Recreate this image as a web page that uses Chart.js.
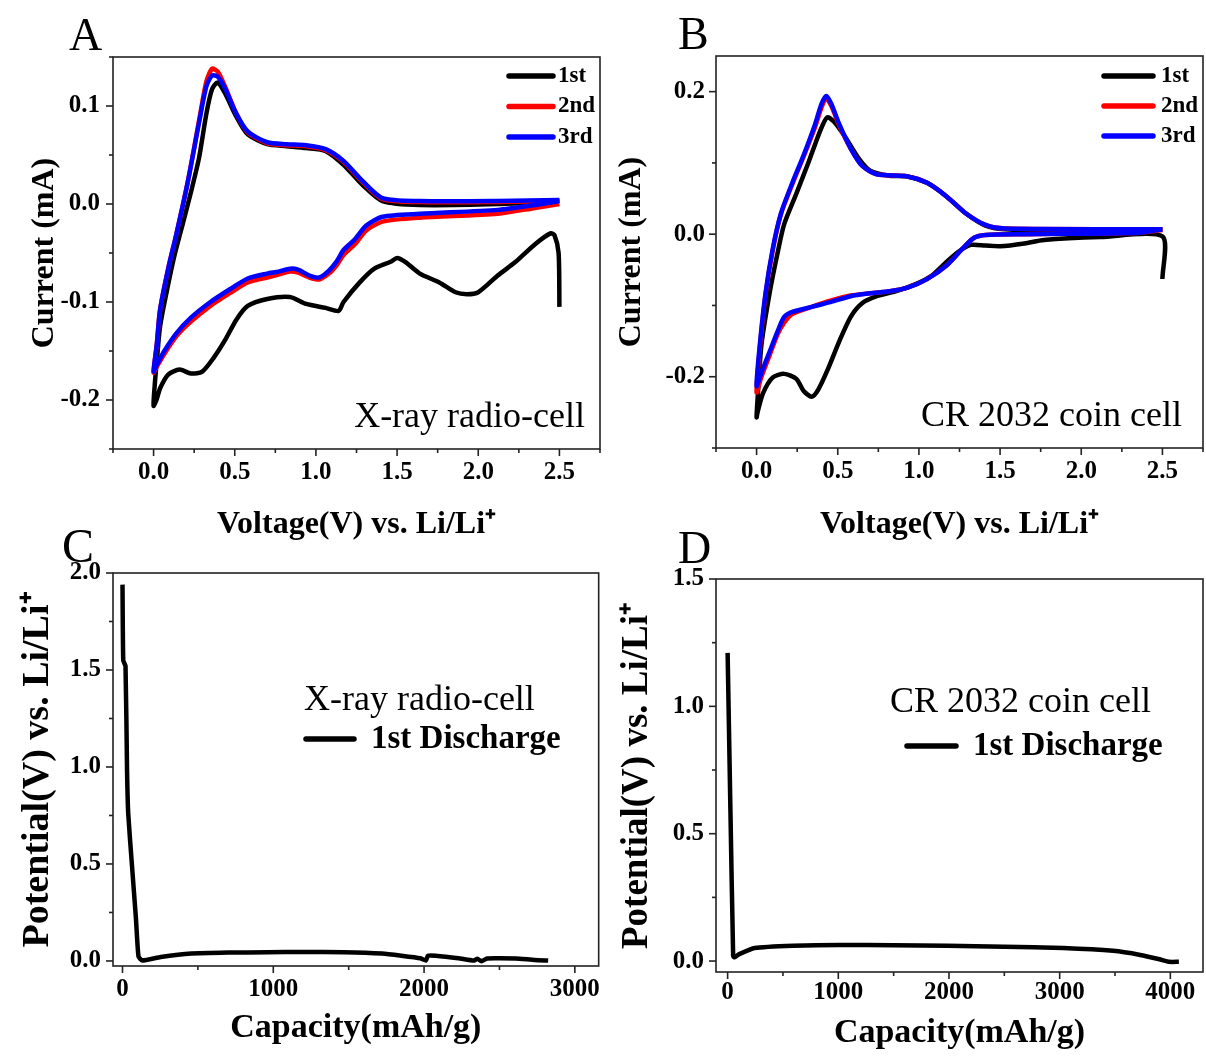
<!DOCTYPE html>
<html>
<head>
<meta charset="utf-8">
<script src="https://cdn.jsdelivr.net/npm/chart.js@4.4.0/dist/chart.umd.min.js"></script>
<style>
  body { margin: 0; background: #fff; }
  .wrap { position: relative; width: 1206px; height: 1057px; overflow: hidden; }
  canvas { position: absolute; }
  .tag { position: absolute; font: 46px "Liberation Serif", serif; line-height: 46px; color: #000; }
</style>
</head>
<body>
<div class="wrap">
  <canvas id="chartA" width="603" height="545" style="left:0;top:0"></canvas>
  <canvas id="chartB" width="603" height="545" style="left:603px;top:0"></canvas>
  <canvas id="chartC" width="603" height="512" style="left:0;top:545px"></canvas>
  <canvas id="chartD" width="603" height="512" style="left:603px;top:545px"></canvas>
  <div class="tag" style="left:69px;top:12px">A</div>
  <div class="tag" style="left:678px;top:11px">B</div>
  <div class="tag" style="left:62px;top:523px;font-size:48px">C</div>
  <div class="tag" style="left:678px;top:525px">D</div>
</div>
<script>
// panel A - CV, X-ray radio-cell (voltage V, current mA)
const aVolt1 = [2.5, 2.495, 2.47, 2.445, 2.35, 2.23, 2.12, 2.0, 1.93, 1.86, 1.76, 1.64, 1.55, 1.5, 1.46, 1.36, 1.27, 1.17, 1.14, 1.06, 0.94, 0.84, 0.7, 0.58, 0.51, 0.44, 0.37, 0.3, 0.23, 0.16, 0.09, 0.04, 0.02, 0.0,
  0.007, 0.02, 0.04, 0.08, 0.125, 0.18, 0.23, 0.28, 0.325, 0.36, 0.395, 0.44, 0.51, 0.58, 0.7, 0.82, 0.94, 1.06, 1.17, 1.29, 1.41, 1.64, 2.12, 2.5];
const aCurr1 = [-0.105, -0.05, -0.032, -0.03, -0.041, -0.059, -0.073, -0.09, -0.092, -0.09, -0.08, -0.071, -0.059, -0.055, -0.059, -0.066, -0.08, -0.1, -0.109, -0.106, -0.102, -0.095, -0.097, -0.104, -0.118, -0.139, -0.157, -0.171, -0.173, -0.169, -0.174, -0.188, -0.199, -0.206,
  -0.185, -0.16, -0.125, -0.09, -0.055, -0.02, 0.012, 0.047, 0.092, 0.117, 0.124, 0.113, 0.089, 0.071, 0.061, 0.059, 0.057, 0.054, 0.04, 0.019, 0.003, -0.001, 0.0, 0.003];
const aVolt23 = [2.5, 2.35, 2.12, 1.64, 1.41, 1.31, 1.24, 1.17, 1.13, 1.08, 1.02, 0.96, 0.89, 0.84, 0.77, 0.7, 0.58, 0.47, 0.35, 0.23, 0.14, 0.066, 0.02, 0.0,
  0.02, 0.04, 0.09, 0.14, 0.21, 0.28, 0.325, 0.36, 0.395, 0.44, 0.51, 0.58, 0.7, 0.82, 0.94, 1.06, 1.17, 1.29, 1.41, 1.64, 2.12, 2.5];
const aCurr2 = [0.0, -0.004, -0.01, -0.014, -0.018, -0.027, -0.041, -0.052, -0.062, -0.071, -0.077, -0.075, -0.07, -0.069, -0.072, -0.075, -0.08, -0.091, -0.104, -0.12, -0.135, -0.153, -0.166, -0.172,
  -0.143, -0.108, -0.066, -0.031, 0.022, 0.085, 0.125, 0.138, 0.135, 0.12, 0.092, 0.073, 0.062, 0.06, 0.059, 0.055, 0.043, 0.022, 0.005, 0.002, 0.002, 0.003];
const aCurr3 = [0.003, -0.001, -0.006, -0.01, -0.013, -0.022, -0.036, -0.047, -0.058, -0.068, -0.075, -0.073, -0.067, -0.066, -0.069, -0.071, -0.076, -0.087, -0.1, -0.116, -0.132, -0.15, -0.164, -0.171,
  -0.143, -0.108, -0.066, -0.031, 0.022, 0.083, 0.12, 0.131, 0.13, 0.118, 0.092, 0.074, 0.063, 0.061, 0.06, 0.056, 0.044, 0.023, 0.006, 0.003, 0.003, 0.004];

// panel B - CV, CR 2032 coin cell
const bVolt1 = [2.5, 2.5, 2.12, 1.77, 1.65, 1.5, 1.41, 1.32, 1.24, 1.17, 1.08, 0.98, 0.86, 0.74, 0.65, 0.58, 0.51, 0.44, 0.38, 0.34, 0.29, 0.245, 0.17, 0.1, 0.04, 0.007, 0.0,
  0.007, 0.03, 0.08, 0.126, 0.17, 0.245, 0.32, 0.39, 0.435, 0.48, 0.55, 0.63, 0.7, 0.82, 0.93, 1.05, 1.17, 1.29, 1.41, 1.53, 1.89, 2.5];
const bCurr1 = [-0.063, -0.003, -0.004, -0.008, -0.013, -0.017, -0.016, -0.015, -0.025, -0.039, -0.058, -0.07, -0.08, -0.087, -0.097, -0.116, -0.15, -0.189, -0.218, -0.228, -0.22, -0.203, -0.196, -0.201, -0.223, -0.249, -0.257,
  -0.228, -0.155, -0.083, -0.03, 0.014, 0.057, 0.101, 0.144, 0.164, 0.157, 0.135, 0.106, 0.089, 0.082, 0.081, 0.072, 0.053, 0.029, 0.012, 0.007, 0.005, 0.007];
const bVolt23 = [2.5, 2.36, 1.65, 1.41, 1.34, 1.27, 1.17, 1.05, 0.93, 0.82, 0.7, 0.58, 0.46, 0.34, 0.22, 0.17, 0.13, 0.08, 0.03, 0.0,
  0.02, 0.055, 0.1, 0.15, 0.22, 0.29, 0.36, 0.4, 0.43, 0.46, 0.51, 0.58, 0.65, 0.74, 0.93, 1.05, 1.17, 1.29, 1.41, 1.53, 2.5];
const bCurr2 = [0.006, 0.002, 0.0, -0.001, -0.005, -0.02, -0.044, -0.063, -0.075, -0.08, -0.083, -0.086, -0.093, -0.102, -0.112, -0.124, -0.14, -0.17, -0.2, -0.222,
  -0.16, -0.085, -0.022, 0.028, 0.07, 0.109, 0.15, 0.178, 0.19, 0.18, 0.152, 0.12, 0.096, 0.084, 0.081, 0.072, 0.053, 0.029, 0.013, 0.008, 0.007];
const bCurr3 = [0.007, 0.002, 0.0, -0.001, -0.005, -0.02, -0.044, -0.063, -0.075, -0.08, -0.083, -0.087, -0.095, -0.102, -0.109, -0.116, -0.136, -0.165, -0.194, -0.213,
  -0.155, -0.083, -0.02, 0.029, 0.072, 0.111, 0.154, 0.183, 0.194, 0.183, 0.154, 0.12, 0.096, 0.084, 0.081, 0.072, 0.053, 0.029, 0.013, 0.008, 0.007];

// panel C - 1st discharge, X-ray radio-cell (capacity mAh/g, potential V)
const cCap = [0, 5, 20, 30, 38, 63, 89, 106, 132, 253, 456, 700, 962, 1200, 1468, 1722, 1850, 1975, 2013, 2025, 2076, 2228, 2329, 2354, 2380, 2418, 2500, 2608, 2734, 2823];
const cPot = [1.94, 1.55, 1.52, 0.99, 0.76, 0.49, 0.22, 0.023, 0.002, 0.02, 0.038, 0.043, 0.045, 0.046, 0.045, 0.038, 0.027, 0.014, 0.002, 0.027, 0.027, 0.014, 0.002, 0.011, -0.002, 0.013, 0.014, 0.013, 0.005, 0.002];

// panel D - 1st discharge, CR 2032 coin cell
const dCap = [0, 25, 50, 60, 105, 244, 592, 1010, 1500, 1986, 2500, 3031, 3484, 3728, 3902, 3990, 4077];
const dPot = [1.21, 0.6, 0.02, 0.015, 0.027, 0.051, 0.06, 0.063, 0.062, 0.06, 0.056, 0.051, 0.04, 0.024, 0.007, -0.003, -0.003];

const cycleLabels = ['1st', '2nd', '3rd'];
const cycleColors = ['#000000', '#ff0000', '#0000ff'];

// tick positions (labelled ones are the majors)
const voltTicks = [-0.25, 0, 0.25, 0.5, 0.75, 1.0, 1.25, 1.5, 1.75, 2.0, 2.25, 2.5, 2.75];
const aCurrTicks = [-0.25, -0.2, -0.15, -0.1, -0.05, 0, 0.05, 0.1, 0.15];
const bCurrTicks = [-0.3, -0.2, -0.1, 0, 0.1, 0.2];
const cCapTicks = [0, 500, 1000, 1500, 2000, 2500, 3000];
const cPotTicks = [0, 0.25, 0.5, 0.75, 1.0, 1.25, 1.5, 1.75, 2.0];
const dCapTicks = [0, 500, 1000, 1500, 2000, 2500, 3000, 3500, 4000];
const dPotTicks = [0, 0.25, 0.5, 0.75, 1.0, 1.25, 1.5];

const serif = '"Liberation Serif", "Times New Roman", serif';
const tickFont = { family: serif, size: 25, weight: 'bold' };

const pts = (xs, ys) => xs.map((x, i) => ({ x: x, y: ys[i] }));

const isMajor = (v, m) => Math.abs(v / m - Math.round(v / m)) < 1e-6;

// frame, tick marks (major / minor), legend and notes
const deco = {
  id: 'deco',
  afterDraw(chart, args, opts) {
    const { ctx, chartArea: a } = chart;
    ctx.save();
    ctx.strokeStyle = '#222';
    ctx.lineWidth = 1.6;
    ctx.strokeRect(a.left, a.top, a.right - a.left, a.bottom - a.top);
    for (const id of ['x', 'y']) {
      const s = chart.scales[id];
      for (const t of s.ticks) {
        const len = t.label !== '' ? 7 : 4;
        const p = s.getPixelForValue(t.value);
        ctx.beginPath();
        if (id === 'x') {
          ctx.moveTo(p, a.bottom);
          ctx.lineTo(p, a.bottom + len);
        } else {
          ctx.moveTo(a.left, p);
          ctx.lineTo(a.left - len, p);
        }
        ctx.stroke();
      }
    }
    const lg = opts.legend;
    if (lg) {
      ctx.font = lg.font;
      ctx.textBaseline = 'middle';
      ctx.textAlign = 'left';
      ctx.lineWidth = 5.5;
      ctx.lineCap = 'round';
      chart.data.datasets.forEach((ds, i) => {
        const y = lg.y + i * lg.gap;
        ctx.strokeStyle = ds.borderColor;
        ctx.beginPath();
        ctx.moveTo(lg.x, y);
        ctx.lineTo(lg.x + lg.len, y);
        ctx.stroke();
        ctx.fillStyle = '#000';
        ctx.fillText(ds.label, lg.x + lg.len + lg.pad, y);
      });
    }
    (opts.notes || []).forEach(n => {
      ctx.font = n.font;
      ctx.fillStyle = '#000';
      ctx.textBaseline = 'middle';
      ctx.textAlign = n.align;
      ctx.fillText(n.text, n.x, n.y);
    });
    ctx.restore();
  }
};

function axis(o) {
  const horiz = o.horiz;
  return {
    type: 'linear',
    position: horiz ? 'bottom' : 'left',
    min: o.min,
    max: o.max,
    afterFit: s => { if (horiz) s.height = o.size; else s.width = o.size; },
    afterBuildTicks: s => { s.ticks = o.ticks.map(v => ({ value: v })); },
    grid: { drawOnChartArea: false, color: 'transparent', tickColor: 'transparent', tickLength: 6 },
    border: { display: false },
    ticks: {
      autoSkip: false,
      maxRotation: 0,
      padding: o.pad,
      color: '#000',
      font: tickFont,
      callback: v => isMajor(v, o.major) ? v.toFixed(o.digits) : ''
    },
    title: {
      display: true,
      text: o.title,
      color: '#000',
      font: { family: serif, size: o.tsize, weight: 'bold' },
      padding: horiz ? { top: 0, bottom: o.tpad } : { top: o.tpad, bottom: 0 }
    }
  };
}

function cycleSets(xs1, ys1, xs23, ys2, ys3) {
  const series = [pts(xs1, ys1), pts(xs23, ys2), pts(xs23, ys3)];
  return series.map((d, i) => ({
    label: cycleLabels[i],
    data: d,
    showLine: true,
    borderColor: cycleColors[i],
    borderWidth: 4.5,
    pointRadius: 0,
    tension: 0.25,
    order: 2 - i
  }));
}

function makeChart(id, datasets, scales, padding, decoOpts) {
  return new Chart(document.getElementById(id), {
    type: 'scatter',
    data: { datasets: datasets },
    options: {
      responsive: false,
      animation: false,
      layout: { padding: padding },
      scales: scales,
      plugins: { legend: { display: false }, tooltip: { enabled: false }, deco: decoOpts }
    },
    plugins: [deco]
  });
}

const voltTitle = 'Voltage(V) vs. Li/Li\u207A';
const potTitle = 'Potential(V) vs. Li/Li\u207A';
const capTitle = 'Capacity(mAh/g)';
const legendFont = 'bold 23px ' + serif;
const noteFont = '36px ' + serif;
const dischargeFont = 'bold 33px ' + serif;

makeChart('chartA', cycleSets(aVolt1, aCurr1, aVolt23, aCurr2, aCurr3), {
  x: axis({ horiz: true, min: -0.25, max: 2.75, ticks: voltTicks, major: 0.5, digits: 1, size: 96, pad: 3, tpad: 1, tsize: 32, title: voltTitle }),
  y: axis({ horiz: false, min: -0.25, max: 0.15, ticks: aCurrTicks, major: 0.1, digits: 1, size: 113, pad: 7, tpad: 26, tsize: 32, title: 'Current (mA)' })
}, { top: 57, right: 3, left: 0, bottom: 0 }, {
  legend: { x: 509, y: 76, gap: 30.5, len: 44, pad: 5, font: legendFont },
  notes: [{ text: 'X-ray radio-cell', x: 585, y: 418, align: 'right', font: noteFont }]
});

makeChart('chartB', cycleSets(bVolt1, bCurr1, bVolt23, bCurr2, bCurr3), {
  x: axis({ horiz: true, min: -0.25, max: 2.75, ticks: voltTicks, major: 0.5, digits: 1, size: 97, pad: 3, tpad: 1, tsize: 32, title: voltTitle }),
  y: axis({ horiz: false, min: -0.3, max: 0.25, ticks: bCurrTicks, major: 0.2, digits: 1, size: 113, pad: 5, tpad: 10, tsize: 32, title: 'Current (mA)' })
}, { top: 56, right: 3, left: 0, bottom: 0 }, {
  legend: { x: 501, y: 76, gap: 30, len: 49, pad: 8, font: legendFont },
  notes: [{ text: 'CR 2032 coin cell', x: 579, y: 417, align: 'right', font: noteFont }]
});

const lineSet = (xs, ys) => [{
  label: '1st Discharge',
  data: pts(xs, ys),
  showLine: true,
  borderColor: '#000000',
  borderWidth: 4.5,
  pointRadius: 0,
  tension: 0.15
}];

makeChart('chartC', lineSet(cCap, cPot), {
  x: axis({ horiz: true, min: -63, max: 3158, ticks: cCapTicks, major: 1000, digits: 0, size: 91, pad: 3, tpad: 8, tsize: 34, title: capTitle }),
  y: axis({ horiz: false, min: -0.026, max: 2.0, ticks: cPotTicks, major: 0.5, digits: 1, size: 113, pad: 6, tpad: 15, tsize: 38, title: potTitle })
}, { top: 28, right: 3, left: 0, bottom: 0 }, {
  legend: { x: 306, y: 194, gap: 0, len: 48, pad: 17, font: dischargeFont },
  notes: [{ text: 'X-ray radio-cell', x: 304, y: 156, align: 'left', font: noteFont }]
});

makeChart('chartD', lineSet(dCap, dPot), {
  x: axis({ horiz: true, min: -105, max: 4295, ticks: dCapTicks, major: 1000, digits: 0, size: 85, pad: 0, tpad: 3, tsize: 34, title: capTitle }),
  y: axis({ horiz: false, min: -0.043, max: 1.5, ticks: dPotTicks, major: 0.5, digits: 1, size: 113, pad: 6, tpad: 12, tsize: 37, title: potTitle })
}, { top: 34, right: 3, left: 0, bottom: 0 }, {
  legend: { x: 304, y: 201, gap: 0, len: 49, pad: 17, font: dischargeFont },
  notes: [{ text: 'CR 2032 coin cell', x: 287, y: 158, align: 'left', font: noteFont }]
});
</script>
</body>
</html>
